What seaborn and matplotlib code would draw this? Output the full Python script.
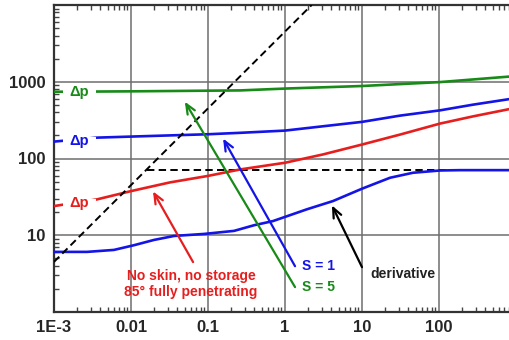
import matplotlib
matplotlib.use("Agg")
import matplotlib.pyplot as plt
import matplotlib.ticker as mticker
from matplotlib.patches import Rectangle
import numpy as np
import seaborn as sns

# Dimensionless time samples and pressure responses
t_green = [1e-3, 0.01, 0.1, 0.261, 1, 10, 103, 836, 1000]
dp_s5 = [740, 750, 765, 771, 815, 880, 990, 1170, 1190]

t_blue = [1e-3, 0.0036, 0.01, 0.1, 0.261, 1, 3.12, 10, 31.2, 103, 277, 836, 1000]
dp_s1 = [166, 187, 193, 207, 216, 231, 263, 300, 362, 424, 503, 596, 620]

t_red = [1e-3, 0.0036, 0.01, 0.032, 0.1, 0.261, 1, 3.12, 10, 31.2, 103, 277, 836, 1000]
dp_s0 = [24, 29.3, 37.6, 48.8, 59.3, 72, 88, 113, 152, 205, 285, 354, 442, 460]

t_der = [1e-3, 0.00268, 0.00601, 0.0109, 0.0199, 0.0362, 0.0887, 0.218, 0.396,
         0.698, 1.93, 4.2, 10, 23.1, 45.9, 103, 187, 1000]
deriv = [6.07, 6.07, 6.44, 7.41, 8.69, 9.79, 10.4, 11.4, 13.5,
         15.3, 21.8, 27.9, 40.4, 56.1, 65.2, 69.8, 70.5, 70.5]

# Unit-slope wellbore storage line and radial-flow stabilisation
storage_t = [1e-3, 2.22]
storage_p = [4.5, 1e4]
radial_t = [0.016, 1000]
radial_p = [71, 71]

x_ticks = [1e-3, 0.01, 0.1, 1, 10, 100]
x_labels = ["1E-3", "0.01", "0.1", "1", "10", "100"]
y_ticks = [10, 100, 1000]
y_labels = ["10", "100", "1000"]

GREEN = "#178a17"
BLUE = "#1414e6"
RED = "#e61e1e"

sns.set_style("ticks")
plt.rcParams["font.family"] = ["Liberation Sans", "DejaVu Sans"]
plt.rcParams["font.weight"] = "bold"

fig = plt.figure(figsize=(5.1, 3.4), dpi=100)
ax = fig.add_axes([54 / 510, 28 / 340, 456 / 510, 307 / 340])
ax.set_xscale("log")
ax.set_yscale("log")

lw = 1.9
sns.lineplot(x=t_green, y=dp_s5, ax=ax, color=GREEN, lw=lw, sort=True, zorder=3)
sns.lineplot(x=t_blue, y=dp_s1, ax=ax, color=BLUE, lw=lw, sort=True, zorder=3)
sns.lineplot(x=t_red, y=dp_s0, ax=ax, color=RED, lw=lw, sort=True, zorder=3)
sns.lineplot(x=t_der, y=deriv, ax=ax, color=BLUE, lw=lw, sort=True, zorder=3)
sns.lineplot(x=storage_t, y=storage_p, ax=ax, color="black", lw=1.4,
             linestyle=(0, (3.8, 2.2)), zorder=4)
sns.lineplot(x=radial_t, y=radial_p, ax=ax, color="black", lw=1.4,
             linestyle=(0, (3.8, 2.2)), zorder=2)

ax.set_xlim(1e-3, 10 ** (456 / 77 - 3))
ax.set_ylim(1, 1e4)

# Curve labels placed in a break of each curve
for yv, c in [(742, GREEN), (168, BLUE), (26, RED)]:
    ax.add_patch(Rectangle((1.31e-3, yv / 1.15), 3.51e-3 - 1.31e-3, yv * 1.15 - yv / 1.15,
                           facecolor="white", edgecolor="none", zorder=4.5))
    ax.text(2.15e-3, yv, "Δp", color=c, fontsize=10.5, fontweight="bold",
            ha="center", va="center", zorder=5)

arrow_kw = dict(arrowstyle="->,head_length=0.7,head_width=0.3", lw=1.6,
                shrinkA=0, shrinkB=0)
ax.annotate("", xy=(0.050, 550), xytext=(1.35, 2.11),
            arrowprops=dict(color=GREEN, **arrow_kw), zorder=6)
ax.annotate("", xy=(0.157, 182), xytext=(1.35, 3.95),
            arrowprops=dict(color=BLUE, **arrow_kw), zorder=6)
ax.annotate("", xy=(0.0193, 37.3), xytext=(0.064, 4.47),
            arrowprops=dict(color=RED, **arrow_kw), zorder=6)
ax.annotate("", xy=(4.07, 24.5), xytext=(10, 3.84),
            arrowprops=dict(color="black", **arrow_kw), zorder=6)

ax.text(1.66, 3.95, "S = 1", color=BLUE, fontsize=10, fontweight="bold",
        ha="left", va="center")
ax.text(1.66, 2.11, "S = 5", color=GREEN, fontsize=10, fontweight="bold",
        ha="left", va="center")
ax.text(12.7, 3.12, "derivative", color="#222222", fontsize=10,
        fontweight="bold", ha="left", va="center")
ax.text(0.060, 2.94, "No skin, no storage", color=RED, fontsize=10,
        fontweight="bold", ha="center", va="center")
ax.text(0.060, 1.82, "85° fully penetrating", color=RED, fontsize=10,
        fontweight="bold", ha="center", va="center")

ax.xaxis.set_major_locator(mticker.FixedLocator(x_ticks))
ax.xaxis.set_major_formatter(mticker.FixedFormatter(x_labels))
ax.yaxis.set_major_locator(mticker.FixedLocator(y_ticks))
ax.yaxis.set_major_formatter(mticker.FixedFormatter(y_labels))
ax.xaxis.set_minor_locator(mticker.LogLocator(base=10, subs=np.arange(2, 10), numticks=20))
ax.yaxis.set_minor_locator(mticker.LogLocator(base=10, subs=np.arange(2, 10), numticks=20))
ax.xaxis.set_minor_formatter(mticker.NullFormatter())
ax.yaxis.set_minor_formatter(mticker.NullFormatter())

ax.grid(True, which="major", color="#6e6e6e", lw=1.1)
ax.tick_params(which="both", direction="in", top=True, right=False,
               labelsize=12, width=1.0, color="#444444")
ax.tick_params(which="major", length=0, pad=6)
ax.tick_params(which="minor", length=3.5)
for lab in ax.get_xticklabels() + ax.get_yticklabels():
    lab.set_fontweight("bold")

ax.spines["right"].set_visible(False)
for s in ["left", "top", "bottom"]:
    ax.spines[s].set_color("#333333")
    ax.spines[s].set_linewidth(1.6)

fig.savefig("out.png", dpi=100, facecolor="white")
